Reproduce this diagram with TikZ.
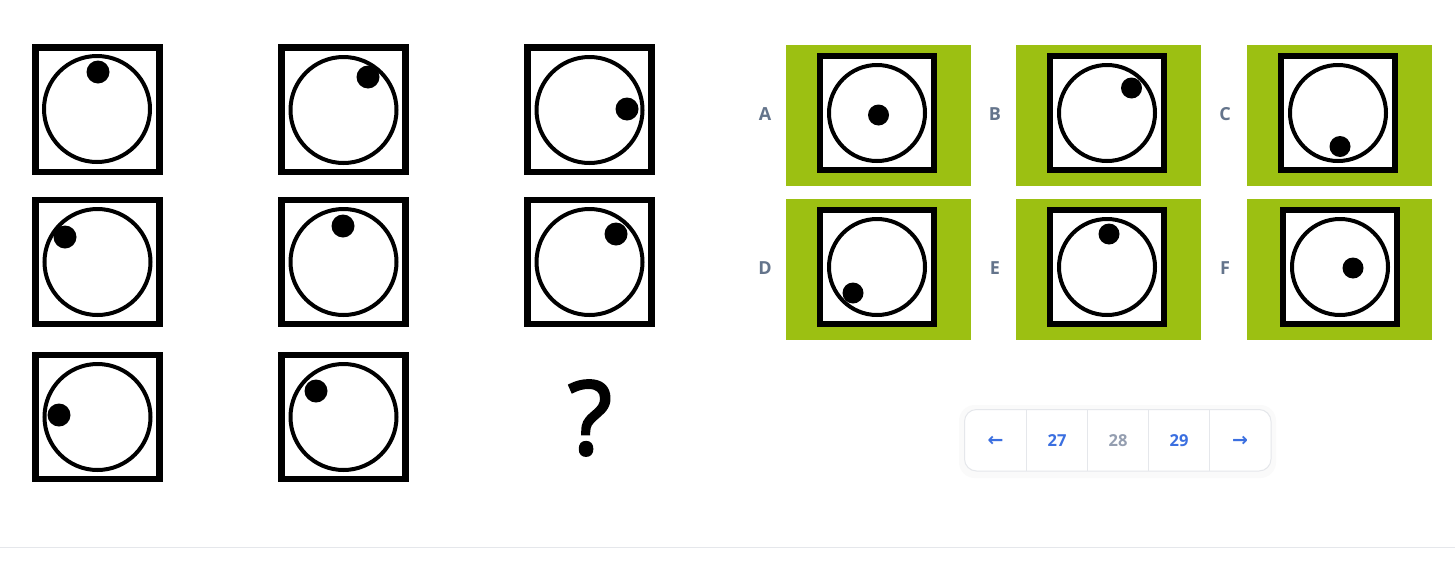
\documentclass[tikz,border=0pt]{standalone}
\usepackage{fontspec}
\newfontfamily\uifont{Open Sans}
\newfontfamily\qfont[FakeBold=2.5]{Open Sans}
\newfontfamily\arrfont{DejaVu Sans}
\definecolor{optgreen}{RGB}{156,192,18}
\definecolor{labgray}{RGB}{100,116,139}
\definecolor{pageblue}{RGB}{59,111,224}
\definecolor{pagegray}{RGB}{148,158,176}
\definecolor{rulegray}{RGB}{229,231,235}
\tikzset{
	sqr/.style={draw=black, line width=6.5pt, fill=white},
	optsqr/.style={draw=black, line width=6.5pt, fill=white},
	ring/.style={draw=black, line width=4pt},
	panel/.style={fill=optgreen},
	optlabel/.style={text=labgray, font=\uifont\bfseries\fontsize{18}{18}\selectfont},
	pagenum/.style={font=\uifont\bfseries\fontsize{16.5}{16.5}\selectfont},
	pagearrow/.style={text=pageblue, font=\arrfont\bfseries\fontsize{19}{19}\selectfont}
}

\begin{document}
\begin{tikzpicture}[x=1pt,y=-1pt]
	\useasboundingbox[fill=white] (0,0) rectangle (1455,560);
	% question grid
	\draw[sqr](35.5,47.5) rectangle (159.5,172);
	\draw[ring](97,109) circle(53);
	\fill(98,72) circle(11.5);
	\draw[sqr](281.5,47.5) rectangle (405.5,172);
	\draw[ring](343.5,110) circle(53);
	\fill(368,77) circle(11.5);
	\draw[sqr](527.5,47.5) rectangle (651.5,172);
	\draw[ring](589.5,110) circle(53);
	\fill(627,109) circle(11.5);
	\draw[sqr](35.5,200) rectangle (159.5,324);
	\draw[ring](97.5,262) circle(53);
	\fill(65,237) circle(11.5);
	\draw[sqr](281.5,200) rectangle (405.5,324);
	\draw[ring](343.5,262) circle(53);
	\fill(343,226) circle(11.5);
	\draw[sqr](527.5,200) rectangle (651.5,324);
	\draw[ring](589.5,262) circle(53);
	\fill(616,234) circle(11.5);
	\draw[sqr](35.5,355) rectangle (159.5,479);
	\draw[ring](97.5,417) circle(53);
	\fill(59,415) circle(11.5);
	\draw[sqr](281.5,355) rectangle (405.5,479);
	\draw[ring](343.5,417) circle(53);
	\fill(316,391) circle(11.5);
	\node[font=\qfont\fontsize{102}{102}\selectfont] (qmark) at (590,418) {?};
	% answer options
	\fill[panel](786,45) rectangle (971,186);
	\draw[optsqr](820,56) rectangle (934,170);
	\draw[ring](877,113) circle(48);
	\fill(878.5,115) circle(10.5);
	\node[optlabel] (labA) at (765,114) {A};
	\fill[panel](1016,45) rectangle (1201,186);
	\draw[optsqr](1050,56) rectangle (1164,170);
	\draw[ring](1107,113) circle(48);
	\fill(1131.5,88) circle(10.5);
	\node[optlabel] (labB) at (995,114) {B};
	\fill[panel](1247,45) rectangle (1432,186);
	\draw[optsqr](1281,56) rectangle (1395,170);
	\draw[ring](1338,113) circle(48);
	\fill(1340,146.5) circle(10.5);
	\node[optlabel] (labC) at (1225,114) {C};
	\fill[panel](786,199) rectangle (971,340);
	\draw[optsqr](820,210) rectangle (934,324);
	\draw[ring](877,267) circle(48);
	\fill(853,293) circle(10.5);
	\node[optlabel] (labD) at (765,268) {D};
	\fill[panel](1016,199) rectangle (1201,340);
	\draw[optsqr](1050,210) rectangle (1164,324);
	\draw[ring](1107,267) circle(48);
	\fill(1109,234) circle(10.5);
	\node[optlabel] (labE) at (995,268) {E};
	\fill[panel](1247,199) rectangle (1432,340);
	\draw[optsqr](1283,210) rectangle (1397,324);
	\draw[ring](1340,267) circle(48);
	\fill(1353,268) circle(10.5);
	\node[optlabel] (labF) at (1225,268) {F};
	% pager
	\fill[black!2, rounded corners=16](959,405) rectangle (1276,478);
	\draw[rulegray, fill=white, line width=1pt, rounded corners=12](964.5,409.5) rectangle (1271,471);
	\draw[rulegray, line width=1pt](1026.5,409.5) -- (1026.5,471);
	\draw[rulegray, line width=1pt](1087.5,409.5) -- (1087.5,471);
	\draw[rulegray, line width=1pt](1148.5,409.5) -- (1148.5,471);
	\draw[rulegray, line width=1pt](1209.5,409.5) -- (1209.5,471);
	\node[pagearrow] (pgPrev) at (995.5,441) {←};
	\node[pagenum, text=pageblue] (pg27) at (1057,441) {27};
	\node[pagenum, text=pagegray] (pg28) at (1118,441) {28};
	\node[pagenum, text=pageblue] (pg29) at (1179,441) {29};
	\node[pagearrow] (pgNext) at (1240,441) {→};
	\draw[rulegray, line width=1.5pt](0,547.5) -- (1455,547.5);
\end{tikzpicture}
\end{document}
